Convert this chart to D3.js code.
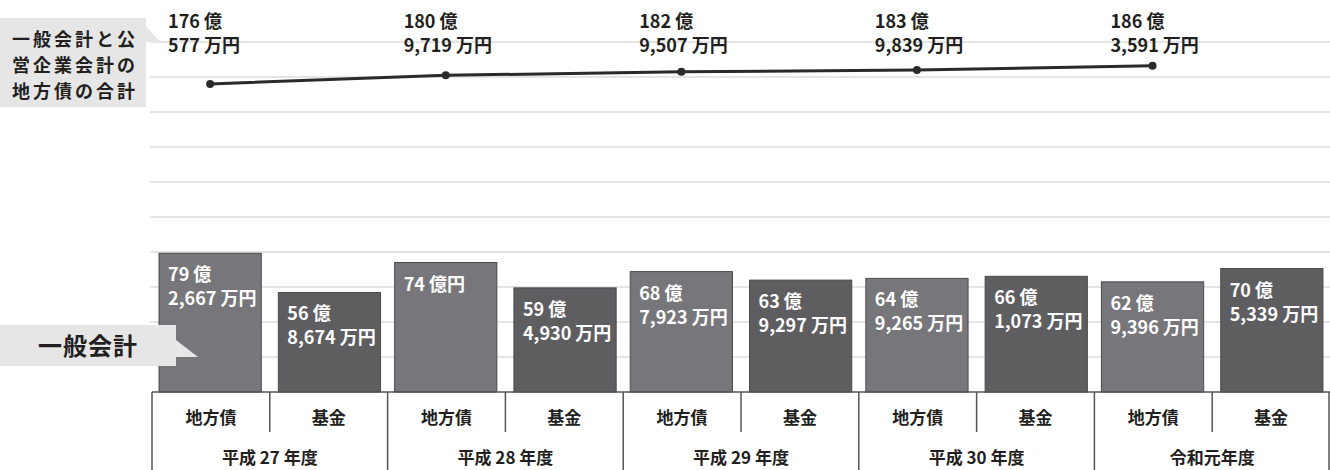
<!DOCTYPE html>
<html>
<head>
<meta charset="utf-8">
<script src="https://cdn.jsdelivr.net/npm/d3@7"></script>
<style>
  body { margin: 0; background: #fff; }
  svg { display: block; font-family: "Noto Sans CJK JP", "Noto Sans", sans-serif; font-weight: bold; }
</style>
</head>
<body>
<svg id="canvas" width="1330" height="470"></svg>
<script>
const years = ["平成 27 年度", "平成 28 年度", "平成 29 年度", "平成 30 年度", "令和元年度"];
const kinds = ["地方債", "基金"];
// unit: 億円
const bondValues = [79.2667, 74.0, 68.7923, 64.9265, 62.9396];
const fundValues = [56.8674, 59.493, 63.9297, 66.1073, 70.5339];
const totalValues = [176.0577, 180.9719, 182.9507, 183.9839, 186.3591];
const totalTitle = ["一般会計と公", "営企業会計の", "地方債の合計"];
const barTitle = "一般会計";

const svg = d3.select("#canvas");
const colors = { "地方債": "#77777b", "基金": "#5e5e61" };

function splitLabel(v) {
  const oku = Math.floor(v);
  const man = Math.round((v - oku) * 10000);
  if (man === 0) return [oku + " 億円"];
  return [oku + " 億", d3.format(",")(man) + " 万円"];
}

const x = d3.scaleBand().domain(years).range([152, 1330]);
const xSub = d3.scaleBand().domain(kinds).range([0, x.bandwidth()])
  .paddingInner(0.143).paddingOuter(0.059);
const xSlot = d3.scaleBand().domain(kinds).range([0, x.bandwidth()]);
const y = d3.scaleLinear().domain([0, 200]).range([392, 42]);

// grid
svg.append("g")
  .selectAll("line")
  .data(y.ticks(10).filter((t) => t > 0))
  .enter()
  .append("line")
  .attr("x1", 150)
  .attr("x2", 1330)
  .attr("y1", (d) => y(d))
  .attr("y2", (d) => y(d))
  .attr("stroke", "#dcdcdc")
  .attr("stroke-width", 1.5);

// bars
const rows = [];
years.forEach((yr, i) => {
  rows.push({ year: yr, kind: "地方債", value: bondValues[i] });
  rows.push({ year: yr, kind: "基金", value: fundValues[i] });
});

const bar = svg.append("g")
  .selectAll("g")
  .data(rows)
  .enter()
  .append("g")
  .attr("transform", (d) => "translate(" + (x(d.year) + xSub(d.kind)) + ",0)");

bar.append("rect")
  .attr("x", 0)
  .attr("y", (d) => y(d.value))
  .attr("width", xSub.bandwidth())
  .attr("height", (d) => y(0) - y(d.value))
  .attr("fill", (d) => colors[d.kind])
  .attr("stroke", "#4a4a4d")
  .attr("stroke-width", 1);

bar.each(function (d) {
  const lines = splitLabel(d.value);
  d3.select(this)
    .selectAll("text")
    .data(lines)
    .enter()
    .append("text")
    .attr("x", 9)
    .attr("y", (t, i) => y(d.value) + 28 + i * 24)
    .attr("fill", "#fff")
    .attr("font-size", 18)
    .text((t) => t);
});

// table under bars
const table = svg.append("g").attr("stroke", "#555").attr("stroke-width", 1.5);
table.append("line").attr("x1", 152).attr("x2", 1330).attr("y1", y(0)).attr("y2", y(0));
table.selectAll(".sep")
  .data(years.concat(["end"]))
  .enter()
  .append("line")
  .attr("x1", (d, i) => (i < years.length ? x(d) : 1329))
  .attr("x2", (d, i) => (i < years.length ? x(d) : 1329))
  .attr("y1", y(0))
  .attr("y2", 470);
table.selectAll(".sub")
  .data(years)
  .enter()
  .append("line")
  .attr("x1", (d) => x(d) + xSlot("基金"))
  .attr("x2", (d) => x(d) + xSlot("基金"))
  .attr("y1", y(0))
  .attr("y2", 432);

svg.append("g")
  .selectAll("text")
  .data(rows)
  .enter()
  .append("text")
  .attr("x", (d) => x(d.year) + xSlot(d.kind) + xSlot.bandwidth() / 2)
  .attr("y", 424)
  .attr("text-anchor", "middle")
  .attr("font-size", 17)
  .attr("fill", "#231f20")
  .text((d) => d.kind);

svg.append("g")
  .selectAll("text")
  .data(years)
  .enter()
  .append("text")
  .attr("x", (d) => x(d) + x.bandwidth() / 2)
  .attr("y", 464)
  .attr("text-anchor", "middle")
  .attr("font-size", 17)
  .attr("fill", "#231f20")
  .text((d) => d);

// total line
const pts = years.map((yr, i) => ({
  x: x(yr) + xSub("地方債") + xSub.bandwidth() / 2,
  left: x(yr) + xSub("地方債") + 9,
  value: totalValues[i],
}));

svg.append("path")
  .datum(pts)
  .attr("fill", "none")
  .attr("stroke", "#2a2a2a")
  .attr("stroke-width", 3)
  .attr("d", d3.line().x((d) => d.x).y((d) => y(d.value)));

svg.append("g")
  .selectAll("circle")
  .data(pts)
  .enter()
  .append("circle")
  .attr("cx", (d) => d.x)
  .attr("cy", (d) => y(d.value))
  .attr("r", 4)
  .attr("fill", "#2a2a2a");

pts.forEach((p) => {
  svg.append("g")
    .selectAll("text")
    .data(splitLabel(p.value))
    .enter()
    .append("text")
    .attr("x", p.left)
    .attr("y", (t, i) => 28 + i * 24)
    .attr("font-size", 18)
    .attr("fill", "#231f20")
    .text((t) => t);
});

// callout boxes
const box1 = svg.append("g");
box1.append("rect").attr("x", 0).attr("y", 18).attr("width", 146).attr("height", 89).attr("fill", "#e6e6e7");
box1.append("path").attr("d", "M146,27L161,42L146,42Z").attr("fill", "#e6e6e7");
box1.selectAll("text")
  .data(totalTitle)
  .enter()
  .append("text")
  .attr("x", 12)
  .attr("y", (d, i) => 46 + i * 26)
  .attr("font-size", 18)
  .attr("letter-spacing", 3)
  .attr("fill", "#231f20")
  .text((d) => d);

const box2 = svg.append("g");
box2.append("rect").attr("x", 0).attr("y", 325).attr("width", 176).attr("height", 41).attr("fill", "#e6e6e7");
box2.append("path").attr("d", "M176,340L198,357L176,357Z").attr("fill", "#e6e6e7");
box2.append("text")
  .attr("x", 38)
  .attr("y", 355)
  .attr("font-size", 24)
  .attr("letter-spacing", 1)
  .attr("fill", "#231f20")
  .text(barTitle);
</script>
</body>
</html>
